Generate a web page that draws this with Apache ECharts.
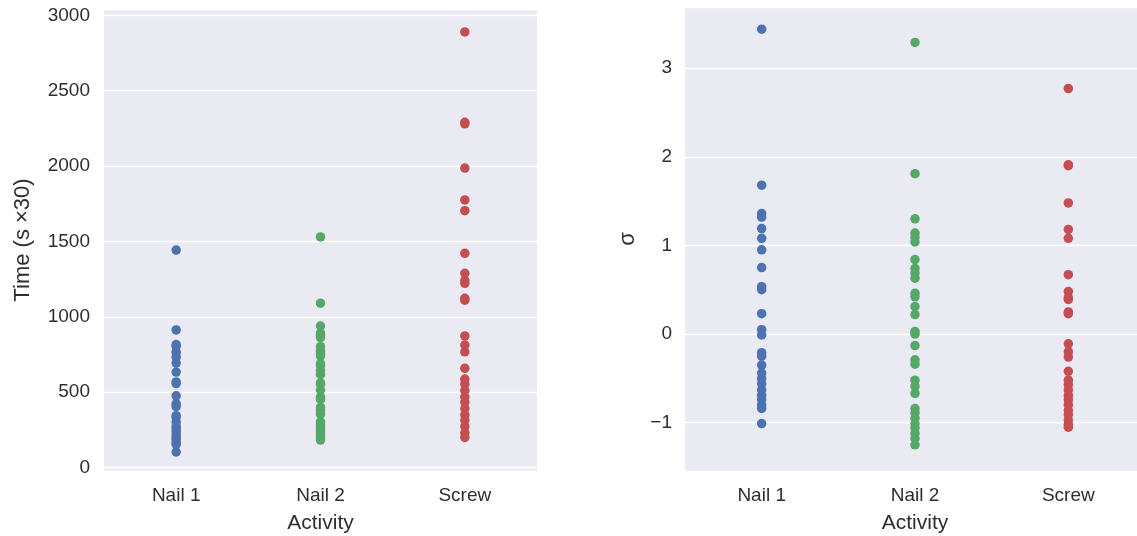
<!DOCTYPE html>
<html>
<head>
<meta charset="utf-8">
<script src="https://cdn.jsdelivr.net/npm/echarts@6/dist/echarts.min.js"></script>
<style>
html,body{margin:0;padding:0;background:#fff;}
#chart{width:1137px;height:536px;}
</style>
</head>
<body>
<div id="chart"></div>
<script>
const categories = ['Nail 1', 'Nail 2', 'Screw'];

// Left panel: raw time (s x30)
const nail1Time = [1443, 913, 816, 804, 765, 732, 693, 633, 568, 557, 476, 422, 404, 344, 332, 302, 275, 257, 238, 217, 199, 184, 166, 154, 103];
const nail2Time = [1530, 1090, 939, 892, 877, 862, 802, 773, 758, 740, 690, 678, 645, 618, 562, 553, 514, 467, 452, 399, 378, 354, 303, 289, 271, 253, 238, 220, 203, 182];
const screwTime = [2890, 2290, 2280, 1987, 1775, 1704, 1421, 1289, 1240, 1222, 1123, 1110, 873, 813, 768, 658, 587, 552, 510, 468, 433, 391, 349, 314, 272, 230, 200];

// Right panel: standardized (sigma)
const nail1Sigma = [3.44, 1.68, 1.36, 1.32, 1.19, 1.08, 0.95, 0.75, 0.535, 0.50, 0.23, 0.05, -0.01, -0.21, -0.25, -0.35, -0.44, -0.50, -0.56, -0.63, -0.69, -0.74, -0.80, -0.84, -1.01];
const nail2Sigma = [3.29, 1.81, 1.30, 1.14, 1.09, 1.04, 0.84, 0.74, 0.69, 0.63, 0.46, 0.42, 0.31, 0.22, 0.03, 0.0, -0.13, -0.29, -0.34, -0.52, -0.59, -0.67, -0.84, -0.89, -0.95, -1.01, -1.06, -1.12, -1.18, -1.25];
const screwSigma = [2.77, 1.91, 1.90, 1.48, 1.18, 1.08, 0.67, 0.48, 0.41, 0.39, 0.25, 0.23, -0.11, -0.20, -0.26, -0.42, -0.52, -0.57, -0.63, -0.69, -0.74, -0.80, -0.86, -0.91, -0.97, -1.02, -1.05];

const colors = ['#4C72B0', '#55A868', '#C44E52'];
const textColor = '#2e2e2e';
const font = 'Liberation Sans, Arial, sans-serif';

function xAxisCfg(gridIndex) {
  return {
    type: 'category', gridIndex: gridIndex, data: categories, boundaryGap: true,
    axisLine: {show: false}, axisTick: {show: false}, splitLine: {show: false},
    axisLabel: {fontSize: 19, color: textColor, margin: 15, fontFamily: font},
    name: 'Activity', nameLocation: 'middle', nameGap: 42,
    nameTextStyle: {fontSize: 21, color: textColor, fontFamily: font}
  };
}

const leftTicks = [0, 500, 1000, 1500, 2000, 2500, 3000];
const rightTicks = [-1, 0, 1, 2, 3];

function yAxisCfg(gridIndex, min, max, split, name, gap, ticks, margin) {
  return {
    type: 'value', gridIndex: gridIndex, min: min, max: max, splitNumber: split,
    axisLine: {show: false}, axisTick: {show: false},
    splitLine: {show: true, lineStyle: {color: '#ffffff', width: 1.3}},
    axisLabel: {
      fontSize: 19, color: textColor, margin: margin, fontFamily: font,
      showMinLabel: false, showMaxLabel: false,
      formatter: function (v) {
        for (const t of ticks) { if (Math.abs(v - t) < 1e-6) return v < 0 ? '\u2212' + Math.abs(t) : String(t); }
        return '';
      }
    },
    name: name, nameLocation: 'middle', nameGap: gap, nameRotate: 90,
    nameTextStyle: {fontSize: 22, color: textColor, fontFamily: font}
  };
}

function strip(cat, values, color, axisIdx) {
  return {
    type: 'scatter', xAxisIndex: axisIdx, yAxisIndex: axisIdx,
    data: values.map(v => [cat, v]),
    symbolSize: 9.5,
    itemStyle: {color: color, opacity: 1},
    silent: true
  };
}

const chart = echarts.init(document.getElementById('chart'), null, {renderer: 'canvas'});
chart.setOption({
  animation: false,
  backgroundColor: '#ffffff',
  textStyle: {fontFamily: font},
  grid: [
    {left: 104, width: 433, top: 9, bottom: 65, show: true, backgroundColor: '#EAEAF2', borderWidth: 0, containLabel: false, outerBoundsMode: 'none'},
    {left: 685, width: 460, top: 7, bottom: 65, show: true, backgroundColor: '#EAEAF2', borderWidth: 0, containLabel: false, outerBoundsMode: 'none'}
  ],
  xAxis: [xAxisCfg(0), xAxisCfg(1)],
  yAxis: [
    yAxisCfg(0, -23, 3042, 6, 'Time (s \u00D730)', 70, leftTicks, 14),
    yAxisCfg(1, -1.545, 3.69, 5, '\u03C3', 46, rightTicks, 13)
  ],
  series: [
    strip('Nail 1', nail1Time, colors[0], 0),
    strip('Nail 2', nail2Time, colors[1], 0),
    strip('Screw', screwTime, colors[2], 0),
    strip('Nail 1', nail1Sigma, colors[0], 1),
    strip('Nail 2', nail2Sigma, colors[1], 1),
    strip('Screw', screwSigma, colors[2], 1)
  ]
});
</script>
</body>
</html>
